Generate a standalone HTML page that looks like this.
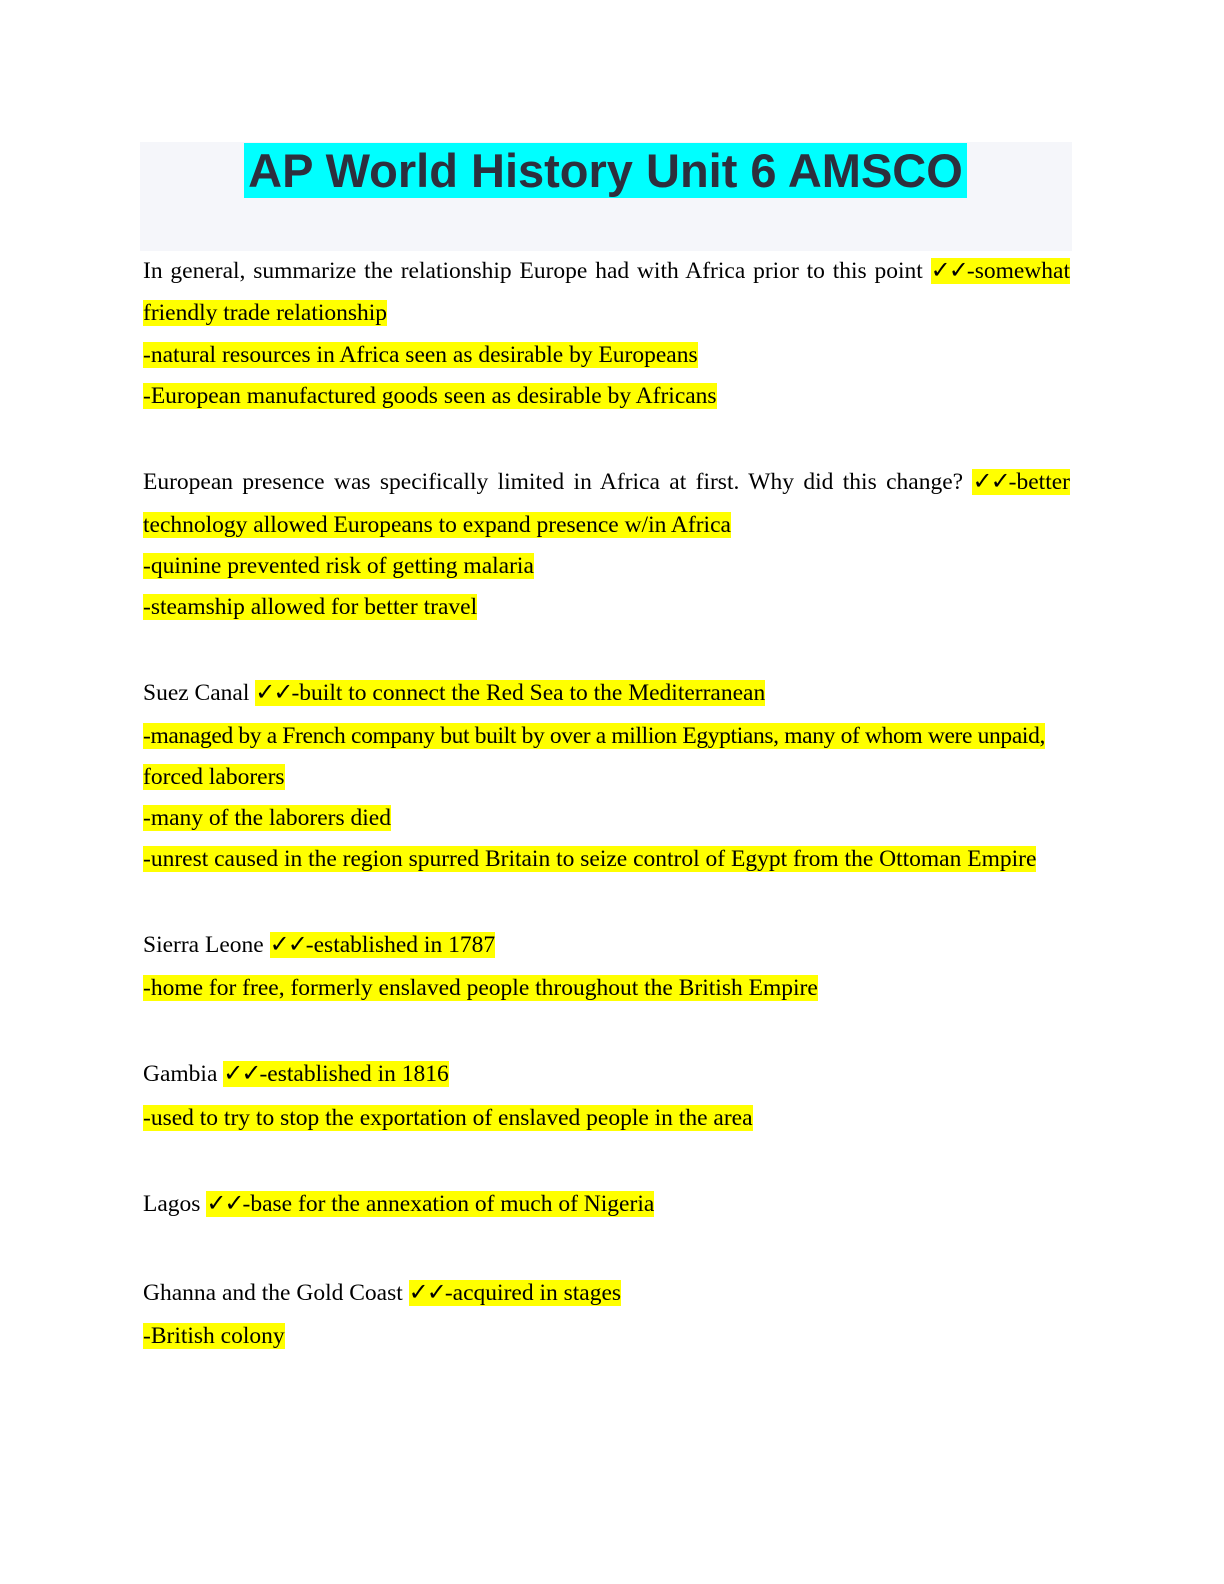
<!DOCTYPE html>
<html><head><style>
body{margin:0;width:1224px;height:1584px;background:#fff;position:relative;font-family:"Liberation Serif",serif;}
.hd{position:absolute;left:140px;top:142px;width:932px;height:109px;background:#f5f6fa;}
.tt{position:absolute;left:244px;top:143px;width:723px;height:55px;background:#00ffff;font-family:"Liberation Sans",sans-serif;font-weight:bold;font-size:47px;line-height:55px;color:#2d2f3d;text-align:center;white-space:nowrap;}
.l{position:absolute;left:143px;font-size:23.5px;line-height:30px;height:30px;white-space:nowrap;color:#000;}
.j{width:927px;text-align:justify;text-align-last:justify;}
.y{background:#ffff00;}
.c{display:inline-block;font-family:"DejaVu Sans",sans-serif;font-weight:bold;font-size:24px;letter-spacing:-2px;}
</style></head><body>
<div class="hd"></div>
<div class="tt">AP World History Unit 6 AMSCO</div>
<div class="l j" style="top:255px">In general, summarize the relationship Europe had with Africa prior to this point <span class="y"><span class="c">✓✓</span>-somewhat</span></div>
<div class="l" style="top:298px"><span class="y">friendly trade relationship</span></div>
<div class="l" style="top:340px"><span class="y">-natural resources in Africa seen as desirable by Europeans</span></div>
<div class="l" style="top:381px"><span class="y">-European manufactured goods seen as desirable by Africans</span></div>
<div class="l j" style="top:466px">European presence was specifically limited in Africa at first. Why did this change? <span class="y"><span class="c">✓✓</span>-better</span></div>
<div class="l" style="top:510px"><span class="y">technology allowed Europeans to expand presence w/in Africa</span></div>
<div class="l" style="top:551px"><span class="y">-quinine prevented risk of getting malaria</span></div>
<div class="l" style="top:592px"><span class="y">-steamship allowed for better travel</span></div>
<div class="l" style="top:677px">Suez Canal <span class="y"><span class="c">✓✓</span>-built to connect the Red Sea to the Mediterranean</span></div>
<div class="l" style="top:721px;letter-spacing:-0.35px"><span class="y">-managed by a French company but built by over a million Egyptians, many of whom were unpaid,</span></div>
<div class="l" style="top:762px"><span class="y">forced laborers</span></div>
<div class="l" style="top:803px"><span class="y">-many of the laborers died</span></div>
<div class="l" style="top:844px"><span class="y">-unrest caused in the region spurred Britain to seize control of Egypt from the Ottoman Empire</span></div>
<div class="l" style="top:929px">Sierra Leone <span class="y"><span class="c">✓✓</span>-established in 1787</span></div>
<div class="l" style="top:973px"><span class="y">-home for free, formerly enslaved people throughout the British Empire</span></div>
<div class="l" style="top:1058px">Gambia <span class="y"><span class="c">✓✓</span>-established in 1816</span></div>
<div class="l" style="top:1103px"><span class="y">-used to try to stop the exportation of enslaved people in the area</span></div>
<div class="l" style="top:1188px">Lagos <span class="y"><span class="c">✓✓</span>-base for the annexation of much of Nigeria</span></div>
<div class="l" style="top:1277px">Ghanna and the Gold Coast <span class="y"><span class="c">✓✓</span>-acquired in stages</span></div>
<div class="l" style="top:1321px"><span class="y">-British colony</span></div>
</body></html>
